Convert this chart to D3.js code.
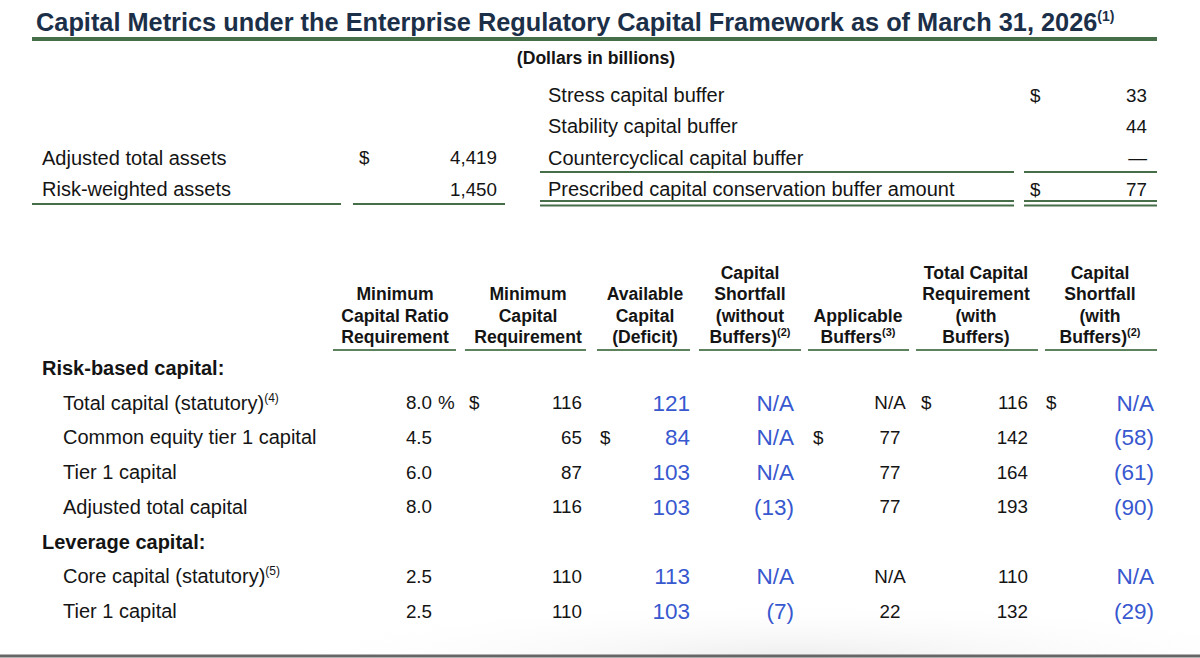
<!DOCTYPE html>
<html>
<head>
<meta charset="utf-8">
<script src="https://cdn.jsdelivr.net/npm/d3@7"></script>
<style>
  html, body { margin: 0; padding: 0; background: #ffffff; }
  svg { display: block; font-family: "Liberation Sans", Arial, Helvetica, sans-serif; }
</style>
</head>
<body>
<svg id="chart" width="1200" height="658"></svg>
<script>
// ---------------- DATA ----------------
const titleText = "Capital Metrics under the Enterprise Regulatory Capital Framework as of March 31, 2026";
const titleNote = "(1)";
const unitLabel = "(Dollars in billions)";

const assetLabels = ["Adjusted total assets", "Risk-weighted assets"];
const assetValues = [4419, 1450];
const assetDollar = [true, false];

const bufferLabels = ["Stress capital buffer", "Stability capital buffer", "Countercyclical capital buffer", "Prescribed capital conservation buffer amount"];
const bufferValues = [33, 44, 0, 77];
const bufferDollar = [true, false, false, true];

const columnHeaders = [
  { lines: ["Minimum", "Capital Ratio", "Requirement"], note: "" },
  { lines: ["Minimum", "Capital", "Requirement"], note: "" },
  { lines: ["Available", "Capital", "(Deficit)"], note: "" },
  { lines: ["Capital", "Shortfall", "(without", "Buffers)"], note: "(2)" },
  { lines: ["Applicable", "Buffers"], note: "(3)" },
  { lines: ["Total Capital", "Requirement", "(with", "Buffers)"], note: "" },
  { lines: ["Capital", "Shortfall", "(with", "Buffers)"], note: "(2)" }
];

const sectionNames = ["Risk-based capital:", "Leverage capital:"];
const rowSection = [0, 0, 0, 0, 1, 1];
const rowLabels = ["Total capital (statutory)", "Common equity tier 1 capital", "Tier 1 capital", "Adjusted total capital", "Core capital (statutory)", "Tier 1 capital"];
const rowNotes = ["(4)", "", "", "", "(5)", ""];

const minCapitalRatio = [8.0, 4.5, 6.0, 8.0, 2.5, 2.5];
const minCapitalRequirement = [116, 65, 87, 116, 110, 110];
const availableCapital = [121, 84, 103, 103, 113, 103];
const shortfallWithoutBuffers = [null, null, null, -13, null, -7];
const applicableBuffers = [null, 77, 77, 77, null, 22];
const totalRequirementWithBuffers = [116, 142, 164, 193, 110, 132];
const shortfallWithBuffers = [null, -58, -61, -90, null, -29];

// ---------------- STYLE / LAYOUT ----------------
const C = {
  navy: "#1c2f48",
  green: "#466f49",
  greenLight: "#5c835e",
  text: "#141414",
  blue: "#3858cf",
  gray: "#666666"
};
const LABEL_SIZE = 20;
const NUM_SIZE = 18.8;
const BLUE_SIZE = 22.5;
const HEAD_SIZE = 17.6;

const svg = d3.select("#chart");
const W = 1200, H = 658;

// subtle shadow at bottom
const defs = svg.append("defs");
const rg = defs.append("radialGradient").attr("id", "shade")
  .attr("cx", "0.55").attr("cy", "1").attr("r", "0.6");
rg.append("stop").attr("offset", "0").attr("stop-color", "#e9e9e9");
rg.append("stop").attr("offset", "1").attr("stop-color", "#ffffff").attr("stop-opacity", 0);
svg.append("rect").attr("x", 0).attr("y", 0).attr("width", W).attr("height", H).attr("fill", "#fff");
svg.append("rect").attr("x", 300).attr("y", 560).attr("width", 900).attr("height", 98).attr("fill", "url(#shade)").attr("opacity", 0.8);

const fmtNum = d3.format(",");
const fmtAcct = v => v == null ? "N/A" : (v < 0 ? "(" + fmtNum(-v) + ")" : fmtNum(v));

// ---------------- TITLE ----------------
const title = svg.append("text")
  .attr("x", 36).attr("y", 31)
  .attr("fill", C.navy)
  .attr("font-weight", "bold")
  .attr("font-size", 22.5);
const titleMain = title.append("tspan").text(titleText);
const titleSup = title.append("tspan").text(titleNote).attr("font-size", 14).attr("dy", -10);

// fit title main text to target end x
{
  const len = titleMain.node().getComputedTextLength();
  const target = 1098 - 36;
  title.attr("font-size", 22.5 * target / len);
  titleSup.attr("font-size", 14).attr("dy", -10);
}

svg.append("line")
  .attr("x1", 32).attr("x2", 1157).attr("y1", 39).attr("y2", 39)
  .attr("stroke", C.green).attr("stroke-width", 4);

svg.append("text")
  .attr("x", 596).attr("y", 64)
  .attr("text-anchor", "middle")
  .attr("font-weight", "bold").attr("font-size", HEAD_SIZE)
  .attr("fill", C.text)
  .text(unitLabel);

// ---------------- TOP BLOCKS ----------------
const yBuf = d3.scalePoint().domain(d3.range(bufferLabels.length)).range([95, 189]);

const topG = svg.append("g").attr("fill", C.text);

// buffers block (right)
topG.selectAll("text.buflab").data(bufferLabels).join("text")
  .attr("class", "buflab").attr("font-size", LABEL_SIZE)
  .attr("x", 548).attr("y", (d, i) => yBuf(i)).attr("dy", "0.35em")
  .text(d => d);
topG.selectAll("text.bufdol").data(bufferDollar).join("text")
  .attr("class", "bufdol").attr("font-size", NUM_SIZE)
  .attr("x", 1030).attr("y", (d, i) => yBuf(i)).attr("dy", "0.35em")
  .text(d => d ? "$" : "");
topG.selectAll("text.bufval").data(bufferValues).join("text")
  .attr("class", "bufval").attr("font-size", NUM_SIZE)
  .attr("x", 1147).attr("y", (d, i) => yBuf(i)).attr("dy", "0.35em")
  .attr("text-anchor", "end")
  .text(d => d === 0 ? "—" : fmtNum(d));

// assets block (left), rows aligned with buffers rows 3 and 4
const assetRow = i => yBuf(i + 2);
topG.selectAll("text.alab").data(assetLabels).join("text")
  .attr("class", "alab").attr("font-size", LABEL_SIZE)
  .attr("x", 42).attr("y", (d, i) => assetRow(i)).attr("dy", "0.35em")
  .text(d => d);
topG.selectAll("text.adol").data(assetDollar).join("text")
  .attr("class", "adol").attr("font-size", NUM_SIZE)
  .attr("x", 359).attr("y", (d, i) => assetRow(i)).attr("dy", "0.35em")
  .text(d => d ? "$" : "");
topG.selectAll("text.aval").data(assetValues).join("text")
  .attr("class", "aval").attr("font-size", NUM_SIZE)
  .attr("x", 497).attr("y", (d, i) => assetRow(i)).attr("dy", "0.35em")
  .attr("text-anchor", "end")
  .text(d => fmtNum(d));

// rules for top blocks
const rule = (x1, x2, y, w, col) => svg.append("line")
  .attr("x1", x1).attr("x2", x2).attr("y1", y).attr("y2", y)
  .attr("stroke", col || C.green).attr("stroke-width", w || 2);

rule(32, 341, 204, 2);
rule(353, 505, 204, 2);
rule(540, 1014, 172, 2);
rule(1024, 1157, 172, 2);
rule(540, 1014, 201, 2);
rule(540, 1014, 205.5, 2);
rule(1024, 1157, 201, 2);
rule(1024, 1157, 205.5, 2);

// ---------------- MAIN TABLE ----------------
const colCenter = [395, 528, 645, 750, 858, 976, 1100];
const colRule = [[333, 456], [465, 586], [597, 690], [699, 801], [808, 909], [916, 1038], [1045, 1157]];
const headLineGap = 21.3;
const headBottom = 343;

const hg = svg.append("g").attr("font-weight", "bold").attr("font-size", HEAD_SIZE).attr("fill", C.text);
columnHeaders.forEach((h, ci) => {
  const n = h.lines.length;
  h.lines.forEach((ln, li) => {
    const t = hg.append("text")
      .attr("x", colCenter[ci])
      .attr("y", headBottom - (n - 1 - li) * headLineGap)
      .attr("text-anchor", "middle");
    t.append("tspan").text(ln);
    if (li === n - 1 && h.note) {
      t.append("tspan").text(h.note).attr("font-size", 11).attr("dy", -7);
    }
  });
  rule(colRule[ci][0], colRule[ci][1], 350, 2.2, C.greenLight);
});

// row positions: sections interleaved with rows
const slots = [];
sectionNames.forEach((s, si) => {
  slots.push({ type: "section", label: s });
  rowLabels.forEach((r, ri) => { if (rowSection[ri] === si) slots.push({ type: "row", idx: ri }); });
});
const ySlot = d3.scalePoint().domain(d3.range(slots.length)).range([368, 611]);
const rowY = new Array(rowLabels.length);
slots.forEach((s, k) => { if (s.type === "row") rowY[s.idx] = ySlot(k); });

const tg = svg.append("g").attr("font-size", LABEL_SIZE).attr("fill", C.text);

// section labels
slots.forEach((s, k) => {
  if (s.type === "section") {
    tg.append("text").attr("x", 42).attr("y", ySlot(k)).attr("dy", "0.35em")
      .attr("font-weight", "bold").text(s.label);
  }
});

// row labels
rowLabels.forEach((r, i) => {
  const t = tg.append("text").attr("x", 63).attr("y", rowY[i]).attr("dy", "0.35em");
  t.append("tspan").text(r);
  if (rowNotes[i]) t.append("tspan").text(rowNotes[i]).attr("font-size", 12).attr("dy", -8);
});

// helper to draw a column
function drawColumn(values, opts) {
  const g = svg.append("g")
    .attr("font-size", opts.size || NUM_SIZE)
    .attr("fill", opts.color || C.text);
  g.selectAll("text").data(values).join("text")
    .attr("x", opts.x)
    .attr("y", (d, i) => rowY[i])
    .attr("dy", "0.35em")
    .attr("text-anchor", opts.anchor || "end")
    .text(opts.fmt);
}

// col 1: minimum capital ratio
drawColumn(minCapitalRatio, { x: 432, fmt: d => d3.format(".1f")(d) });
svg.append("text").attr("x", 438).attr("y", rowY[0]).attr("dy", "0.35em")
  .attr("font-size", NUM_SIZE).attr("fill", C.text).text("%");

// dollar signs
const dollar = (x, i) => svg.append("text").attr("x", x).attr("y", rowY[i]).attr("dy", "0.35em")
  .attr("font-size", NUM_SIZE).attr("fill", C.text).text("$");
dollar(469, 0);
dollar(600, 1);
dollar(813, 1);
dollar(921, 0);
dollar(1046, 0);

// col 2
drawColumn(minCapitalRequirement, { x: 582, fmt: fmtNum });
// col 3 (blue)
drawColumn(availableCapital, { x: 690, fmt: fmtAcct, color: C.blue, size: BLUE_SIZE });
// col 4 (blue)
drawColumn(shortfallWithoutBuffers, { x: 794, fmt: fmtAcct, color: C.blue, size: BLUE_SIZE });
// col 5
drawColumn(applicableBuffers, { x: 890, fmt: fmtAcct, anchor: "middle" });
// col 6
drawColumn(totalRequirementWithBuffers, { x: 1028, fmt: fmtNum });
// col 7 (blue)
drawColumn(shortfallWithBuffers, { x: 1154, fmt: fmtAcct, color: C.blue, size: BLUE_SIZE });

// bottom edge line
rule(0, W, 656, 3, C.gray);
</script>
</body>
</html>
